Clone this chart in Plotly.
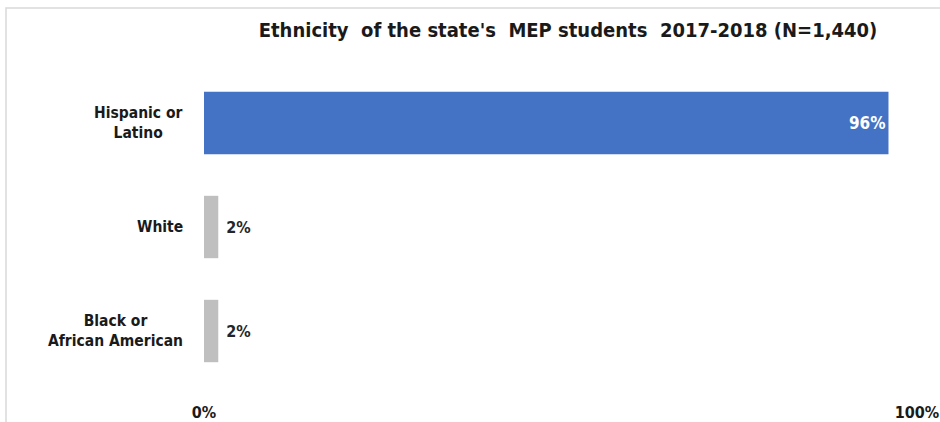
import plotly.graph_objects as go

# Ethnicity breakdown of MEP students, 2017-2018
categories = ["Hispanic or<br>Latino", "White", "Black or<br>African American"]
percentages = [96, 2, 2]
bar_colors = ["#4472C4", "#BFBFBF", "#BFBFBF"]
label_positions = ["inside", "outside", "outside"]
label_colors = ["white", "#262626", "#262626"]
tick_values = [0, 100]
tick_labels = ["0%", "100%"]
title_text = "Ethnicity  of the state's  MEP students  2017-2018 (N=1,440)"

FONT = "DejaVu Sans Condensed, Liberation Sans Narrow, Arial Narrow, sans-serif"

W, H = 940, 422
L, R, T, B = 204, 23, 71, 39
PW, PH = W - L - R, H - T - B

fig = go.Figure(
    go.Bar(
        x=percentages,
        y=categories,
        orientation="h",
        marker=dict(color=bar_colors, line=dict(width=0)),
        width=0.6,
        text=[f"{v}%" if pos == "inside" else f" {v}%" for v, pos in zip(percentages, label_positions)],
        textposition=label_positions,
        insidetextanchor="end",
        textfont=dict(family=FONT, size=[17, 16, 16], color=label_colors),
        cliponaxis=False,
    )
)

# Category labels: right-anchored next to the bars, lines centred within each label
for cat in categories:
    fig.add_annotation(
        x=(185 - L) / PW,
        xref="paper",
        y=cat,
        yref="y",
        text=f"<b>{cat}</b>",
        xanchor="right",
        yanchor="middle",
        align="center",
        showarrow=False,
        font=dict(family=FONT, size=15.5, color="#1a1a1a"),
    )

fig.update_layout(
    width=W,
    height=H,
    margin=dict(l=L, r=R, t=T, b=B, autoexpand=False),
    paper_bgcolor="white",
    plot_bgcolor="white",
    showlegend=False,
    title=dict(
        text=f"<b>{title_text}</b>",
        x=568 / W,
        xanchor="center",
        y=1 - 30 / H,
        yanchor="middle",
        font=dict(family=FONT, size=20, color="#1a1a1a"),
    ),
    xaxis=dict(
        range=[0, 100],
        tickvals=tick_values,
        ticktext=tick_labels,
        showgrid=False,
        zeroline=False,
        showline=False,
        ticks="",
        automargin=False,
        ticklabelstandoff=18,
        tickfont=dict(family=FONT, size=16, color="#1a1a1a"),
    ),
    yaxis=dict(
        autorange="reversed",
        showgrid=False,
        zeroline=False,
        showline=False,
        showticklabels=False,
        ticks="",
        automargin=False,
    ),
    shapes=[
        dict(
            type="rect",
            xref="paper",
            yref="paper",
            x0=(6 - L) / PW,
            x1=(W + 20 - L) / PW,
            y0=-(B + 20) / PH,
            y1=1 + (T - 8) / PH,
            line=dict(color="#D9D9D9", width=1.5),
            fillcolor="rgba(0,0,0,0)",
            layer="below",
        )
    ],
)

fig.layout.xaxis.tickfont.weight = "bold"
fig.data[0].textfont.weight = "bold"

fig.write_html("out.html")
